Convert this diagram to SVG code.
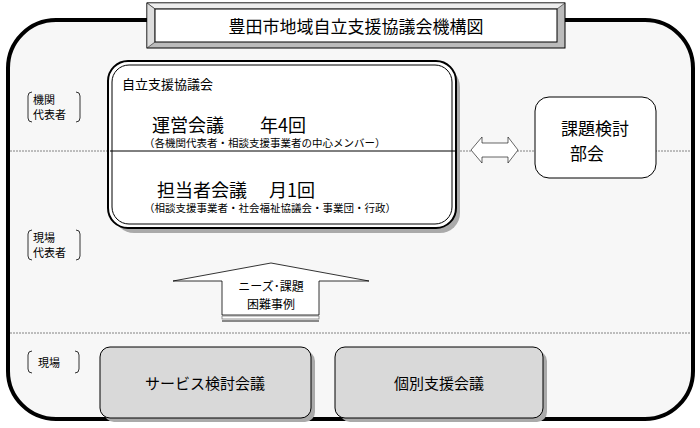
<svg xmlns="http://www.w3.org/2000/svg" width="700" height="428" viewBox="0 0 700 428">
<style>
text{font-family:"Noto Sans CJK JP","Noto Sans CJK SC",sans-serif;fill:#000}
.br{fill:none;stroke:#000;stroke-width:0.8}
</style>
<rect width="700" height="428" fill="#fff"/>
<g id="frame">
<rect x="8" y="20" width="685" height="399" rx="48" fill="#f7f7f7" stroke="#000" stroke-width="4"/>
<line x1="10" y1="151" x2="691" y2="151" stroke="#666" stroke-width="0.8" stroke-dasharray="2,1"/>
<line x1="10" y1="333" x2="691" y2="333" stroke="#666" stroke-width="0.8" stroke-dasharray="2,1"/>
</g>
<g id="title">
<rect x="147" y="3" width="418" height="45" fill="#bbb" stroke="#000"/>
<polygon points="147,3 565,3 557,9 155,9" fill="#eee" stroke="#000" stroke-width="0.5"/>
<polygon points="147,3 155,9 155,42 147,48" fill="#ddd" stroke="#000" stroke-width="0.5"/>
<rect x="155" y="9" width="402" height="33" fill="#fff" stroke="#000"/>
<text x="356" y="33" font-size="17" text-anchor="middle">豊田市地域自立支援協議会機構図</text>
</g>
<g id="labels">
<path class="br" d="M32,92 q-4,0 -4,4 v22 q0,4 4,4 M76,92 q4,0 4,4 v22 q0,4 -4,4"/>
<text x="33" y="104" font-size="11">機関</text><text x="33" y="119" font-size="11">代表者</text>
<path class="br" d="M32,230 q-4,0 -4,4 v22 q0,4 4,4 M76,230 q4,0 4,4 v22 q0,4 -4,4"/>
<text x="33" y="242" font-size="11">現場</text><text x="33" y="257" font-size="11">代表者</text>
<path class="br" d="M32,351 q-4,0 -4,4 v14 q0,4 4,4 M75,351 q4,0 4,4 v14 q0,4 -4,4"/>
<text x="38" y="367" font-size="11">現場</text>
</g>
<g id="council">
<rect x="114" y="67" width="346" height="166" rx="20" fill="#aaa"/>
<rect x="108" y="61" width="348" height="167" rx="20" fill="#fff" stroke="#000" stroke-width="2"/>
<rect x="112" y="65" width="340" height="159" rx="17" fill="none" stroke="#000" stroke-width="1"/>
<line x1="110" y1="151" x2="455" y2="151" stroke="#000" stroke-width="1"/>
<text x="122" y="89" font-size="13">自立支援協議会</text>
<text x="152" y="132" font-size="18">運営会議　　年4回</text>
<text x="144" y="147" font-size="10.5">（各機関代表者・相談支援事業者の中心メンバー）</text>
<text x="157" y="197" font-size="18">担当者会議　 月1回</text>
<text x="144" y="212" font-size="10.5">（相談支援事業者・社会福祉協議会・事業団・行政）</text>
</g>
<g id="bukai">
<rect x="535" y="97" width="121" height="81" rx="14" fill="#fff" stroke="#000"/>
<text x="595" y="135" font-size="17" text-anchor="middle">課題検討</text>
<text x="587" y="160" font-size="17" text-anchor="middle">部会</text>
</g>
<g id="service">
<rect x="104" y="351" width="211" height="71" rx="10" fill="#aaa"/>
<rect x="100" y="347" width="211" height="71" rx="10" fill="#d9d9d9" stroke="#000"/>
<text x="205" y="389" font-size="15" text-anchor="middle">サービス検討会議</text>
</g>
<g id="kobetsu">
<rect x="340" y="351" width="207" height="71" rx="10" fill="#aaa"/>
<rect x="335" y="347" width="208" height="71" rx="10" fill="#d9d9d9" stroke="#000"/>
<text x="439" y="389" font-size="15" text-anchor="middle">個別支援会議</text>
</g>
<g id="connectors">
<polygon points="471,150 482,137 482,143 508,143 508,137 518,150 508,163 508,157 482,157 482,163" fill="#fff" stroke="#000" stroke-width="0.6"/>
<polygon points="173,281 271,263 369,281 319,281 319,315 222,315 222,281" fill="#fff" stroke="#000" stroke-width="0.8"/>
<rect x="222" y="316" width="97" height="3" fill="#fff" stroke="#555" stroke-width="0.6"/>
<rect x="222" y="320" width="97" height="2" fill="#888"/>
<text x="271" y="291" font-size="12" text-anchor="middle">ニーズ･課題</text>
<text x="271" y="309" font-size="12" text-anchor="middle">困難事例</text>
</g>
</svg>
